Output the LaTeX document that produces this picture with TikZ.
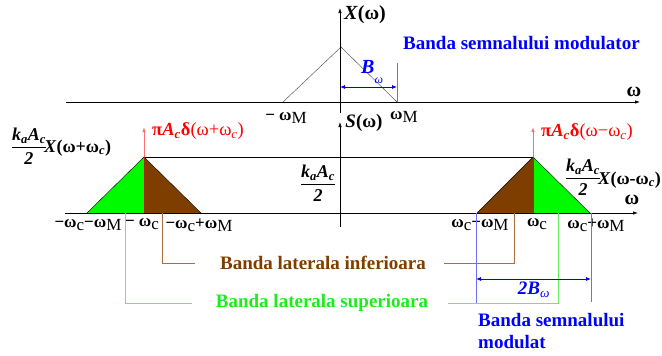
\documentclass[tikz,border=0pt]{standalone}
\usepackage{fontspec}
\setmainfont{Liberation Serif}
\usepackage{amsmath}
\usetikzlibrary{arrows.meta, positioning}

\definecolor{bandblue}{RGB}{0,0,255}
\definecolor{lineblue}{RGB}{110,110,255}
\definecolor{bandgreen}{RGB}{0,250,0}
\definecolor{textgreen}{RGB}{30,235,30}
\definecolor{linegreen}{RGB}{100,240,100}
\definecolor{bandbrown}{RGB}{125,62,0}
\definecolor{linebrown}{RGB}{170,110,60}
\definecolor{deltared}{RGB}{255,0,0}
\definecolor{deltapink}{RGB}{255,110,110}
\definecolor{deltadark}{RGB}{170,40,10}

\newcommand{\om}{\textbf{ω}}
\newcommand{\lowM}{\raisebox{-0.45ex}{M}}
\newcommand{\lowc}{\raisebox{-0.4ex}{c}}
\newcommand{\kaAc}{$\dfrac{\textbf{\textit{k\textsubscript{a}A\textsubscript{c}}}}{\textbf{\textit{2}}}$}

\tikzset{
  axis/.style={-{Latex[length=5pt,width=3.5pt]}, line width=0.7pt},
  lbl/.style={font=\fontsize{17}{18}\selectfont, inner sep=0pt},
  biglbl/.style={font=\fontsize{20}{20}\selectfont, inner sep=0pt},
  band/.style={font=\fontsize{19}{22}\selectfont\bfseries, inner sep=0pt},
  dimarrow/.style={{Latex[length=5pt,width=4pt]}-{Latex[length=5pt,width=4pt]}, bandblue, line width=0.8pt},
}

\begin{document}
\begin{tikzpicture}[x=1pt, y=-1pt]
  \useasboundingbox (0,0) rectangle (662,356);

  % Spectrum of the modulating signal
  \coordinate (xl) at (66,102);
  \coordinate (xr) at (640,102);
  \coordinate (xb) at (340,113);
  \coordinate (xt) at (340,8);
  \coordinate (xp) at (341,47);
  \coordinate (xm1) at (283,102);
  \coordinate (xm2) at (397,102);
  \coordinate (bw) at (397,63);
  \coordinate (bwl) at (340,87);
  \coordinate (bwr) at (397,87);

  \draw[thin, black!75] (xm1) -- (xp) -- (xm2);
  \draw[axis] (xl) -- (xr);
  \draw[axis] (xb) -- (xt);
  \draw[lineblue, line width=0.8pt] (bw) -- (xm2);
  \draw[dimarrow] (bwl) -- (bwr);

  \node[biglbl] (xlab) at (365,15) {\textbf{\textit{X}(ω)}};
  \node[band, text=bandblue, anchor=west] (modtxt) at (403,43) {Banda semnalului modulator};
  \node[biglbl, text=bandblue, anchor=west] (bwlab) at (361,72) {\textbf{\textit{B}}\raisebox{-1ex}{\fontsize{12}{12}\selectfont\textit{ω}}};
  \node[biglbl] (wlab1) at (634,92) {\om};
  \node[lbl] (mwM) at (286,118) {\textbf{− ω}\lowM};
  \node[lbl] (wM) at (404,117) {\om\lowM};

  % Spectrum of the modulated signal
  \coordinate (sl) at (65,213);
  \coordinate (sr) at (638,213);
  \coordinate (sb) at (340,227);
  \coordinate (st) at (340,122);
  \coordinate (l1) at (87,213);
  \coordinate (lc) at (144,213);
  \coordinate (lp) at (144,157);
  \coordinate (l2) at (201,213);
  \coordinate (lt) at (144,127);
  \coordinate (r1) at (477,213);
  \coordinate (rc) at (533,213);
  \coordinate (rp) at (533,157);
  \coordinate (r2) at (590,213);
  \coordinate (rt) at (533,127);

  \fill[bandgreen] (l1) -- (lp) -- (lc) -- cycle;
  \fill[bandbrown] (lc) -- (lp) -- (l2) -- cycle;
  \fill[bandbrown] (r1) -- (rp) -- (rc) -- cycle;
  \fill[bandgreen] (rc) -- (rp) -- (r2) -- cycle;
  \draw[thin] (l1) -- (lp) -- (l2);
  \draw[thin] (r1) -- (rp) -- (r2);
  \draw[thin] (lp) -- (rp);
  \draw[deltadark, thin] (lc) -- (lp);
  \draw[deltadark, thin] (rc) -- (rp);
  \draw[deltapink, line width=0.8pt, -{Latex[length=5pt,width=3.5pt]}] (lp) -- (lt);
  \draw[deltapink, line width=0.8pt, -{Latex[length=5pt,width=3.5pt]}] (rp) -- (rt);
  \draw[axis] (sl) -- (sr);
  \draw[axis] (sb) -- (st);

  \node[lbl, font=\fontsize{19}{19}\selectfont] (slab) at (364,123) {\textbf{\textit{S}(ω)}};
  \node[biglbl] (wlab2) at (632,200) {\om};
  \node[lbl, font=\fontsize{18.5}{19}\selectfont, text=deltared, anchor=west] (dl) at (152,131)
    {\textbf{π\textit{A}\textsubscript{\textit{c}}δ}(ω+ω\textsubscript{\textit{c}})};
  \node[lbl, font=\fontsize{18.5}{19}\selectfont, text=deltared, anchor=west] (dr) at (541,132)
    {\textbf{π\textit{A}\textsubscript{\textit{c}}δ}(ω−ω\textsubscript{\textit{c}})};
  \node[lbl, font=\fontsize{18}{18}\selectfont] (fl) at (29,146) {\kaAc};
  \node[lbl, font=\fontsize{18}{18}\selectfont, anchor=west] (fxl) at (44,148) {\textbf{\textit{X}(ω+ω\textsubscript{\textit{c}})}};
  \node[lbl, font=\fontsize{18}{18}\selectfont] (fm) at (318,183) {\kaAc};
  \node[lbl, font=\fontsize{18}{18}\selectfont] (fr) at (583,177) {\kaAc};
  \node[lbl, font=\fontsize{18}{18}\selectfont, anchor=west] (fxr) at (598,180) {\textbf{\textit{X}(ω-ω\textsubscript{\textit{c}})}};

  \node[lbl] (a1) at (88,225) {\textbf{−ω}\lowc\textbf{−ω}\lowM};
  \node[lbl] (a2) at (142,224) {\textbf{− ω}\lowc};
  \node[lbl] (a3) at (199,225) {\textbf{−ω}\lowc\textbf{+ω}\lowM};
  \node[lbl] (a4) at (480,225) {\om\lowc\textbf{−ω}\lowM};
  \node[lbl] (a5) at (537,224) {\om\lowc};
  \node[lbl] (a6) at (596,225) {\om\lowc\textbf{+ω}\lowM};

  % Side bands
  \coordinate (gL) at (125,213);
  \coordinate (bL) at (162,213);
  \coordinate (bR) at (514,213);
  \coordinate (gR) at (558,213);
  \coordinate (bl1) at (476,213);
  \coordinate (bl2) at (591,213);
  \coordinate (bl1b) at (476,303);
  \coordinate (bl2b) at (591,302);
  \coordinate (d1) at (476,279);
  \coordinate (d2) at (591,279);

  \node[band, text=bandbrown] (inf) at (323,263) {Banda laterala inferioara};
  \node[band, text=textgreen] (sup) at (322,303) {Banda laterala superioara};
  \draw[linegreen, line width=0.8pt] (gL) |- ([xshift=-24pt]sup.west);
  \draw[linegreen, line width=0.8pt] ([xshift=20pt]sup.east) -| (gR);
  \draw[linebrown, line width=0.8pt] (bL) |- ([xshift=-25pt]inf.west);
  \draw[linebrown, line width=0.8pt] ([xshift=18pt]inf.east) -| (bR);
  \draw[lineblue, line width=0.8pt] (bl1) -- (bl1b);
  \draw[lineblue, line width=0.8pt] (bl2) -- (bl2b);
  \draw[dimarrow] (d1) -- (d2);

  \node[lbl, font=\fontsize{19}{19}\selectfont, text=bandblue] (twob) at (534,290) {\textbf{\textit{2B}}\textsubscript{\textit{ω}}};
  \node[band, text=bandblue, anchor=north west, align=left] (modtxt2) at (478,313) {Banda semnalului\\modulat};
\end{tikzpicture}
\end{document}
